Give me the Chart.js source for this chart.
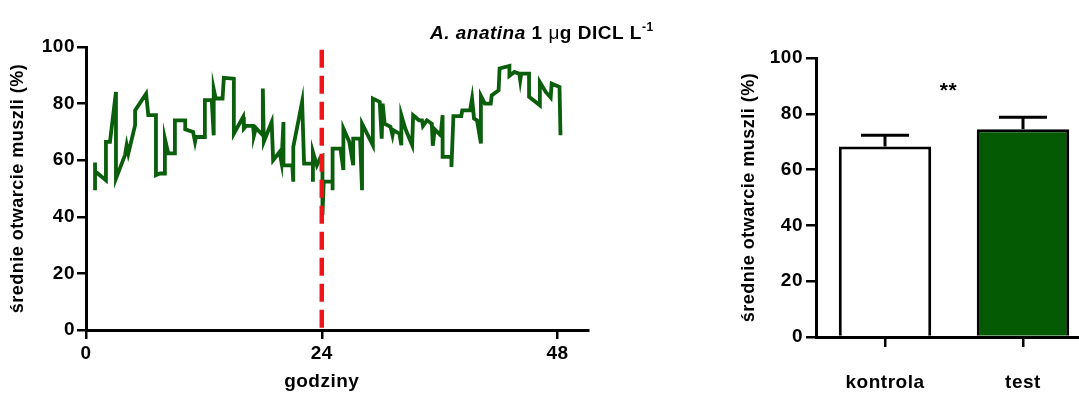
<!DOCTYPE html>
<html lang="pl">
<head>
<meta charset="utf-8">
<title>Otwarcie muszli – A. anatina</title>
<script src="https://cdn.jsdelivr.net/npm/chart.js@4.4.1/dist/chart.umd.min.js"></script>
<style>
  html, body { margin: 0; padding: 0; background: #fff; overflow: hidden; }
  body { width: 1079px; height: 394px; position: relative; }
  .box { position: absolute; top: 0; height: 394px; }
  #leftBox { left: 0; width: 680px; }
  #rightBox { left: 700px; width: 392px; }
</style>
</head>
<body>
<div class="box" id="leftBox"><canvas id="timeChart"></canvas></div>
<div class="box" id="rightBox"><canvas id="barChart"></canvas></div>
<script>
// mean shell opening over 48 h of recording (hour, %)
const hours = [0.92,0.92,0.92,2.03,2.03,2.44,3.05,3.05,3.97,4.14,4.31,5.0,5.0,6.12,6.34,7.12,7.12,7.53,8.03,8.03,
  8.37,9.05,9.05,10.1,10.1,10.9,11.1,11.2,12.1,12.1,12.8,13.0,13.0,13.2,13.9,14.03,15.05,15.05,16.0,16.07,
  16.3,17.0,17.1,17.3,18.0,18.0,18.1,18.9,19.05,19.7,19.9,20.1,20.1,21.0,21.1,21.1,22.0,22.2,23.1,23.1,
  23.1,23.5,23.9,24.07,24.07,24.2,25.1,25.1,25.1,25.9,26.2,26.2,26.8,27.2,27.2,27.9,28.1,28.1,29.2,29.2,
  29.9,30.1,30.2,30.4,31.0,31.2,31.3,31.9,32.1,32.1,32.5,33.2,33.3,33.9,34.2,34.3,34.7,35.2,35.3,35.5,
  36.1,36.3,36.3,37.2,37.2,37.4,38.2,38.3,39.1,39.3,39.5,39.8,40.2,40.2,40.6,41.2,41.3,42.0,42.1,43.1,
  43.1,43.6,44.1,44.2,44.3,45.1,45.1,46.2,46.2,46.8,47.3,47.4,48.2,48.3];
const opening = [59.2,49.4,56.1,52.9,66.5,66.5,84.1,53.5,61.8,65.3,62.4,72.4,77.6,83.5,75.9,75.9,54.7,55.3,55.3,67.6,
  62.4,62.4,74.1,74.1,70.9,70.0,66.5,68.2,68.2,81.2,81.2,68.8,85.1,81.8,81.8,89.1,88.8,69.4,75.3,71.2,
  72.1,72.1,68.8,71.4,68.8,85.3,66.5,73.5,60.0,62.9,59.2,73.5,58.2,58.2,52.4,64.7,80.6,58.8,58.8,52.4,
  62.9,58.2,61.2,61.5,40.6,52.4,52.4,49.4,64.1,64.1,56.5,71.2,66.5,58.2,67.6,67.6,49.4,72.9,65.3,81.8,
  80.6,67.6,80.0,72.9,71.8,68.8,70.6,69.4,65.3,75.9,71.2,65.3,75.9,74.1,74.1,72.1,74.1,72.9,65.1,70.9,
  68.8,75.9,61.2,61.2,57.6,75.6,75.6,77.6,77.6,81.8,74.7,74.1,65.9,82.7,80.0,80.0,82.9,84.7,92.4,93.3,
  89.8,91.2,90.6,88.2,90.6,90.6,82.4,79.4,87.6,84.1,82.1,87.1,85.9,68.8];

// start of exposure, drawn as a dashed marker
const exposureHour = 24;
const markerSpan = [99, 0.5];
const hourTicks = [0, 24, 48];
const openingTicks = [0, 20, 40, 60, 80, 100];

// whole-period means with SEM
const groups = ['kontrola', 'test'];
const groupMean = [68.3, 74.5];
const groupSem = [4.0, 4.3];
const signif = '**';
const signifLevel = 86;

const yTitle = 'średnie otwarcie muszli (%)';
const xTitle = 'godziny';
const header = [
  ['italic bold 19px', 'A. anatina', 0],
  ['bold 19px', ' 1 ', 0],
  ['19px', 'μ', 0],
  ['bold 19px', 'g DICL L', 0],
  ['bold 12px', '-1', -8]
];

const family = "'Liberation Sans', Arial, Helvetica, sans-serif";
const GREEN = '#0b5e0b';
const BAR_GREEN = '#035a03';
const RED = '#f01418';

Chart.defaults.font = { family, size: 19, weight: 'bold' };
Chart.defaults.color = '#000';
Chart.defaults.animation = false;

// the exported figure uses slightly spread lettering
const spacing = {
  id: 'spacing',
  beforeUpdate(chart) { chart.ctx.letterSpacing = '0.5px'; },
  beforeDraw(chart) { chart.ctx.letterSpacing = '0.5px'; }
};

const axisLook = (tickLen, pad) => ({
  border: { display: true, color: '#000', width: 3 },
  grid: { display: true, drawOnChartArea: false, drawTicks: true, tickLength: tickLen, color: '#000', lineWidth: 2.5, offset: false },
  ticks: { padding: pad, color: '#000' }
});

const timeExtras = {
  id: 'timeExtras',
  afterDraw(chart) {
    const { ctx, scales: { x } } = chart;
    ctx.save();
    ctx.fillStyle = '#000';
    ctx.font = `bold 19px ${family}`;
    ctx.textAlign = 'center';
    ctx.textBaseline = 'middle';
    ctx.fillText(xTitle, x.getPixelForValue(exposureHour), 382);

    ctx.textAlign = 'left';
    ctx.textBaseline = 'alphabetic';
    let px = 430;
    for (const [f, t, dy] of header) {
      ctx.font = `${f} ${family}`;
      ctx.fillText(t, px, 39 + dy);
      px += ctx.measureText(t).width;
    }
    ctx.restore();
  }
};

new Chart(document.getElementById('timeChart'), {
  type: 'scatter',
  data: {
    datasets: [
      {
        data: markerSpan.map(v => ({ x: exposureHour, y: v })),
        showLine: true, borderColor: RED, borderWidth: 4.5, borderDash: [18, 8],
        pointRadius: 0, order: 0
      },
      {
        data: hours.map((h, i) => ({ x: h, y: opening[i] })),
        showLine: true, borderColor: GREEN, borderWidth: 3.8, tension: 0,
        borderJoinStyle: 'miter', pointRadius: 0, order: 1
      }
    ]
  },
  options: {
    responsive: true,
    maintainAspectRatio: false,
    layout: { padding: { top: 47, right: 92, bottom: 0, left: 0 } },
    plugins: { legend: { display: false }, tooltip: { enabled: false } },
    scales: {
      x: {
        type: 'linear', min: 0, max: 51.1,
        ...axisLook(9, 3),
        afterBuildTicks: s => { s.ticks = hourTicks.map(v => ({ value: v })); },
        afterFit: s => { s.height = 64; }
      },
      y: {
        min: 0, max: 100,
        ...axisLook(9, 2),
        afterBuildTicks: s => { s.ticks = openingTicks.map(v => ({ value: v })); },
        title: { display: true, text: yTitle, font: { size: 18, weight: 'bold' }, padding: { top: 7, bottom: 0 } },
        afterFit: s => { s.width = 86; }
      }
    }
  },
  plugins: [spacing, timeExtras]
});

const errorBars = {
  id: 'errorBars',
  afterDatasetsDraw(chart) {
    const { ctx, scales: { x, y } } = chart;
    const meta = chart.getDatasetMeta(0);
    ctx.save();
    ctx.strokeStyle = '#000';
    ctx.lineWidth = 3;
    meta.data.forEach((bar, i) => {
      const top = y.getPixelForValue(groupMean[i] + groupSem[i]);
      ctx.beginPath();
      ctx.moveTo(bar.x, bar.y);
      ctx.lineTo(bar.x, top);
      ctx.moveTo(bar.x - 24, top);
      ctx.lineTo(bar.x + 24, top);
      ctx.stroke();
    });
    ctx.fillStyle = '#000';
    ctx.font = `bold 21px ${family}`;
    ctx.textAlign = 'center';
    ctx.textBaseline = 'alphabetic';
    ctx.fillText(signif, x.getPixelForValue(0.46), y.getPixelForValue(signifLevel));
    ctx.restore();
  }
};

new Chart(document.getElementById('barChart'), {
  type: 'bar',
  data: {
    labels: groups,
    datasets: [{
      data: groupMean,
      backgroundColor: ['#ffffff', BAR_GREEN],
      borderColor: '#000',
      borderWidth: 3,
      borderSkipped: 'start',
      categoryPercentage: 1,
      barPercentage: 0.67
    }]
  },
  options: {
    responsive: true,
    maintainAspectRatio: false,
    layout: { padding: { top: 58, right: 0, bottom: 0, left: 0 } },
    plugins: { legend: { display: false }, tooltip: { enabled: false } },
    scales: {
      x: {
        ...axisLook(10, 24),
        afterFit: s => { s.height = 57; }
      },
      y: {
        min: 0, max: 100,
        ...axisLook(10, 3),
        afterBuildTicks: s => { s.ticks = openingTicks.map(v => ({ value: v })); },
        title: { display: true, text: yTitle, font: { size: 18, weight: 'bold' }, padding: { top: 38, bottom: 0 } },
        afterFit: s => { s.width = 116; }
      }
    }
  },
  plugins: [spacing, errorBars]
});
</script>
</body>
</html>
